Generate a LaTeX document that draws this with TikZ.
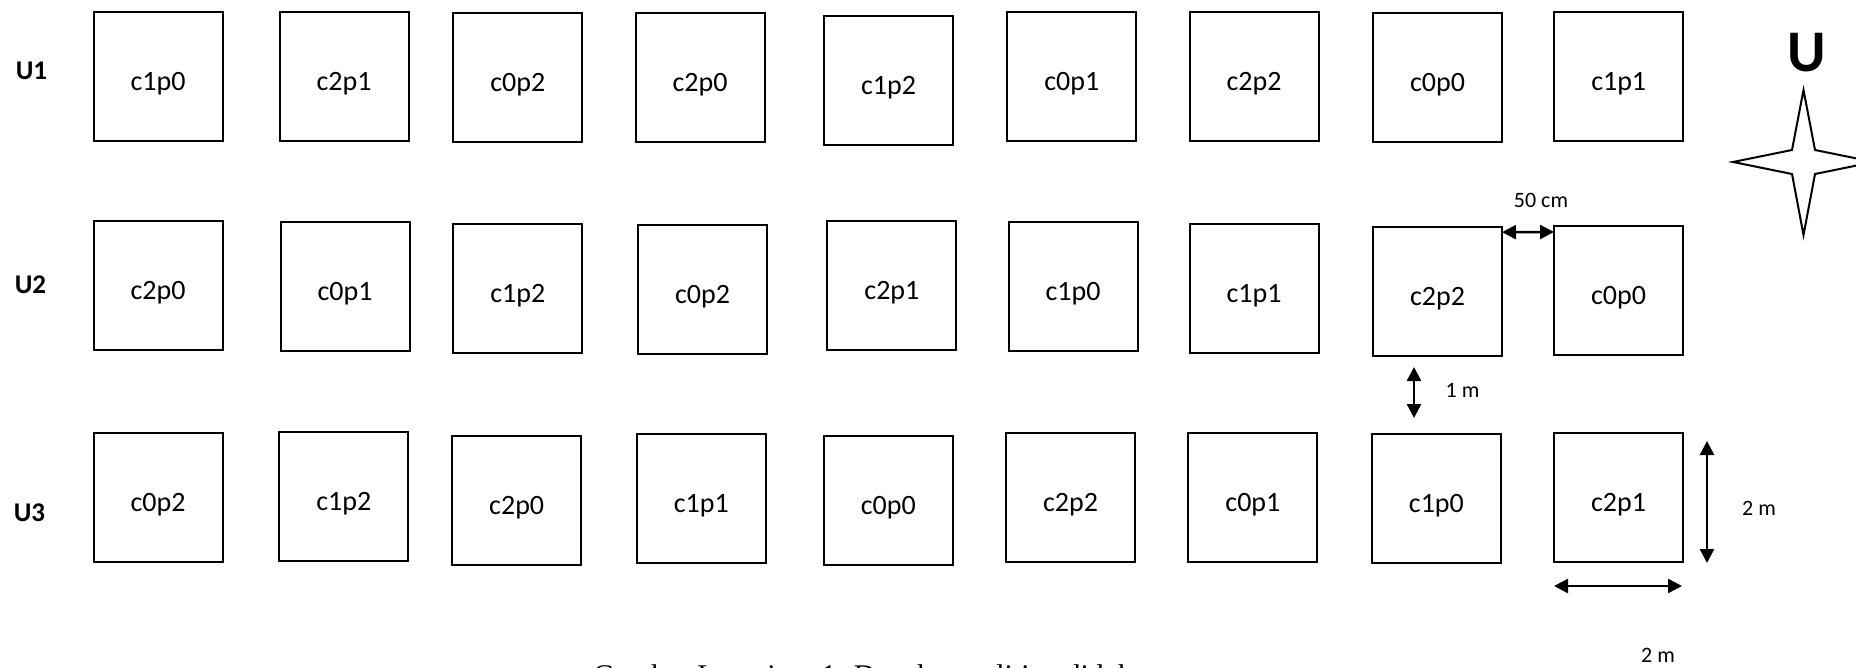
\documentclass[tikz,border=0pt]{standalone}
\usepackage{fontspec}
\setmainfont{Carlito}
\newfontfamily\capfont{Liberation Serif}
\usetikzlibrary{arrows.meta}
\begin{document}
\begin{tikzpicture}[x=1pt,y=-1pt,
  plotbox/.style={draw, line width=2pt, minimum width=129pt, minimum height=129pt, inner sep=0pt, outer sep=0pt, anchor=north west},
  lbl/.style={anchor=base, inner sep=0pt, font=\fontsize{28}{30}\selectfont},
  rowlbl/.style={anchor=base, inner sep=0pt, font=\fontsize{27}{30}\selectfont\bfseries},
  dimarrow/.style={line width=2.5pt, {Triangle[length=14pt,width=14pt]}-{Triangle[length=14pt,width=14pt]}},
  dimlbl/.style={anchor=base, inner sep=0pt, font=\fontsize{22}{24}\selectfont}]
\useasboundingbox (0,0) rectangle (1856,668);
\clip (0,0) rectangle (1856,668);
% plots
\foreach \n/\x/\y/\t in {
  a1/93.5/12.3/c1p0, a2/279.5/12/c2p1, a3/453.3/13/c0p2, a4/635.6/13/c2p0, a5/824/15.7/c1p2,
  a6/1007.3/12/c0p1, a7/1189.6/12/c2p2, a8/1373/13/c0p0, a9/1554.2/12/c1p1,
  b1/93.5/221.3/c2p0, b2/280.5/222.5/c0p1, b3/453.3/223.7/c1p2, b4/638/224.9/c0p2, b5/827.4/221.3/c2p1,
  b6/1008.5/222.5/c1p0, b7/1189.6/223.7/c1p1, b8/1373/226.7/c2p2, b9/1554/226.5/c0p0,
  c1/93.5/433.2/c0p2, c2/279.3/432/c1p2, c3/452.2/435.6/c2p0, c4/636.8/434.4/c1p1, c5/823.8/435.7/c0p0,
  c6/1006.1/433.2/c2p2, c7/1188.4/433.2/c0p1, c8/1371.9/434.4/c1p0, c9/1554/433/c2p1}
{
  \node[plotbox] (\n) at (\x,\y) {};
  \node[lbl] (\n-t) at ([yshift=-14pt]\n.center) {\t};
}
% row labels
\node[rowlbl] (u1) at (31.5,79.3) {U1};
\node[rowlbl] (u2) at (30.5,293.5) {U2};
\node[rowlbl] (u3) at (29.5,521) {U3};
% north marker
\node[anchor=base, inner sep=0pt, font=\fontsize{59}{60}\selectfont\bfseries] (north) at (1806.7,71.7) {U};
\draw[line width=2pt] (1803.5,90) -- (1815,150) -- (1874,162) -- (1815,174) -- (1803.5,235)
  -- (1792,174) -- (1733,162) -- (1792,150) -- cycle;
% dimensions
\draw[dimarrow] ([yshift=-5.5pt]b8.north east) -- ([yshift=-5.5pt]b9.north west);
\node[dimlbl] (d50) at (1541,208) {50 cm};
\coordinate (m1a) at (1414,367);
\coordinate (m1b) at (1414,418);
\draw[dimarrow] (m1a) -- (m1b);
\node[dimlbl] (d1m) at (1462.5,397) {1 m};
\coordinate (v2a) at (1707,441);
\coordinate (v2b) at (1707,563);
\draw[dimarrow] (v2a) -- (v2b);
\node[dimlbl] (d2v) at (1759,515.7) {2 m};
\coordinate (h2a) at (1554,586);
\coordinate (h2b) at (1682,586);
\draw[dimarrow] (h2a) -- (h2b);
\node[dimlbl] (d2h) at (1658,662) {2 m};
% caption
\node[anchor=base west, inner sep=0pt, font=\capfont\fontsize{30}{32}\selectfont] (cap) at (593,685) {Gambar Lampiran 1. Denah penelitian di lahan};
\end{tikzpicture}
\end{document}
